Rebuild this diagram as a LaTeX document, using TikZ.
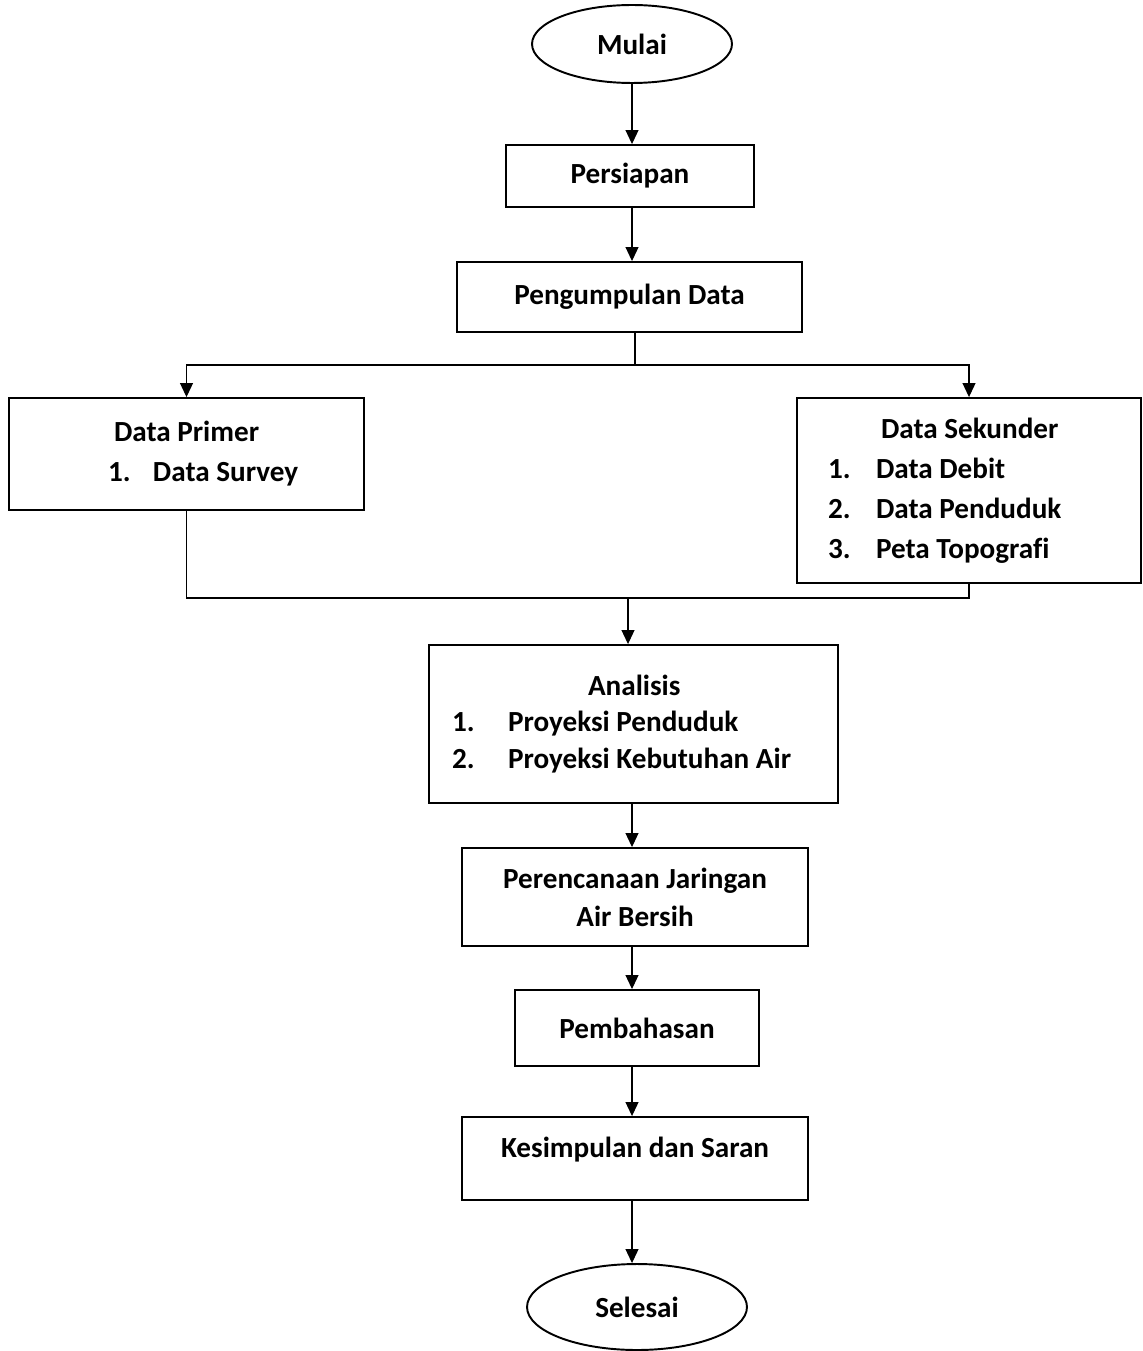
\documentclass[tikz,border=0pt]{standalone}
\usepackage{fontspec}
\setmainfont{Carlito}[Ligatures=CommonOff]
\usetikzlibrary{arrows.meta,shapes.geometric}

\begin{document}
\begin{tikzpicture}[
    x=0.02cm, y=-0.02cm,
    every node/.style={font=\bfseries\fontsize{16.6}{22.7}\selectfont},
    box/.style={rectangle, draw, line width=1.1pt, align=center},
    term/.style={ellipse, draw, line width=1.1pt},
    listbox/.style={rectangle, draw, line width=1.1pt, align=left, inner xsep=0pt,
      execute at begin node={\spaceskip=0pt\xspaceskip=0pt}},
    arrow/.style={-{Triangle[length=0.28cm,width=0.26cm]}, line width=0.6pt},
    line/.style={line width=0.6pt}
]
\useasboundingbox (0,0) rectangle (1142,1351);

\node (mulai) [term, minimum width=4cm, minimum height=1.56cm] at (632,44) {Mulai};
\node (siap) [box, minimum width=4.96cm, minimum height=1.24cm] at (630,176) {Persiapan};
\node (kumpul) [box, minimum width=6.9cm, minimum height=1.4cm] at (629.5,297) {Pengumpulan Data};

\node (primer) [listbox, text width=7.1cm, minimum height=2.24cm] at (186.5,454)
  {\hspace*{2.1cm}Data Primer\\
   \hspace*{1.98cm}\makebox[0.9cm][l]{1.}Data Survey};
\node (sekunder) [listbox, text width=6.88cm, minimum height=3.7cm] at (969,490.5)
  {\hspace*{1.68cm}Data Sekunder\\
   \hspace*{0.62cm}\makebox[0.96cm][l]{1.}Data Debit\\
   \hspace*{0.62cm}\makebox[0.96cm][l]{2.}Data Penduduk\\
   \hspace*{0.62cm}\makebox[0.96cm][l]{3.}Peta Topografi};

\node (analisis) [listbox, text width=8.18cm, minimum height=3.16cm,
  font=\bfseries\fontsize{16.6}{20.6}\selectfont] at (633.5,724)
  {\hspace*{3.18cm}Analisis\\
   \hspace*{0.46cm}\makebox[1.12cm][l]{1.}Proyeksi Penduduk\\
   \hspace*{0.46cm}\makebox[1.12cm][l]{2.}Proyeksi Kebutuhan Air};
\node (rencana) [box, minimum width=6.92cm, minimum height=1.96cm,
  font=\bfseries\fontsize{16.6}{21.5}\selectfont] at (635,897)
  {Perencanaan Jaringan\\Air Bersih};
\node (bahas) [box, minimum width=4.88cm, minimum height=1.52cm] at (637,1028) {Pembahasan};
\node (simpul) [box, minimum width=6.92cm, minimum height=1.66cm, text depth=0.44cm] at (635,1158.5) {Kesimpulan dan Saran};
\node (selesai) [term, minimum width=4.4cm, minimum height=1.72cm] at (637,1307) {Selesai};

\coordinate (split) at (635,365);
\coordinate (merge) at (628,598);

\draw[arrow] (mulai.south) -- (mulai.south |- siap.north);
\draw[arrow] (siap.south -| mulai.south) -- (mulai.south |- kumpul.north);
\draw[line] (kumpul.south -| split) -- (split);
\draw[arrow] (split) -| (primer.north);
\draw[arrow] (split) -| (sekunder.north);
\draw[line] (primer.south) |- (merge);
\draw[line] (sekunder.south) |- (merge);
\draw[arrow] (merge) -- (merge |- analisis.north);
\draw[arrow] (analisis.south -| mulai.south) -- (mulai.south |- rencana.north);
\draw[arrow] (rencana.south -| mulai.south) -- (mulai.south |- bahas.north);
\draw[arrow] (bahas.south -| mulai.south) -- (mulai.south |- simpul.north);
\draw[arrow] (simpul.south -| mulai.south) -- (mulai.south |- selesai.north);

\end{tikzpicture}
\end{document}
